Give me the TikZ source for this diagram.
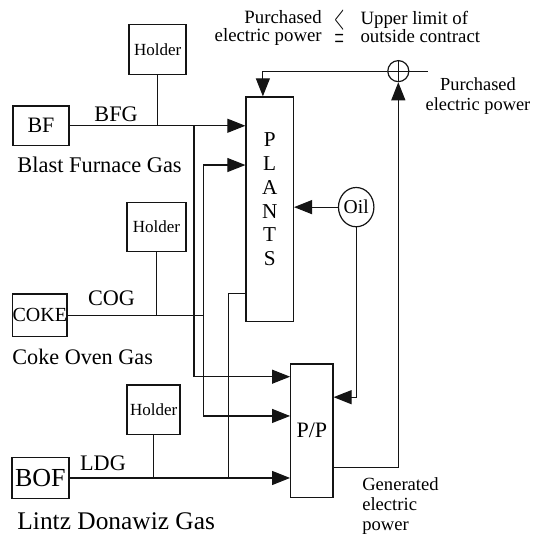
\documentclass[tikz,border=0pt]{standalone}
\usepackage{fontspec}
\usepackage{amsmath}
\usepackage{amssymb}
\setmainfont{Liberation Serif}
\usetikzlibrary{shapes.geometric, arrows.meta, positioning, calc}
\definecolor{myink}{RGB}{20,20,20}
\tikzset{
  holderbox/.style={rectangle, draw=myink, minimum width=1.0cm, minimum height=0.87cm,
    inner sep=0pt, font=\fontsize{8.5}{10}\selectfont, line width=0.7pt},
  srcbox/.style={rectangle, draw=myink, minimum width=0.98cm, minimum height=0.7cm,
    inner sep=0pt, line width=0.7pt},
  unitbox/.style={rectangle, draw=myink, inner sep=0pt, line width=0.7pt},
  sumjunc/.style={circle, draw=myink, minimum size=0.37cm, inner sep=0pt, line width=0.6pt,
    path picture={\draw[myink, line width=0.5pt]
      (path picture bounding box.north) -- (path picture bounding box.south)
      (path picture bounding box.west) -- (path picture bounding box.east);}},
  oilnode/.style={ellipse, draw=myink, minimum width=0.47cm, minimum height=0.69cm,
    inner sep=0pt, font=\fontsize{9.8}{11}\selectfont, line width=0.6pt},
  gaslbl/.style={inner sep=0pt, font=\fontsize{11.1}{13}\selectfont},
  notelbl/.style={inner sep=0pt, font=\fontsize{9.4}{9}\selectfont},
  arrow/.style={-{Triangle[length=9pt, width=7pt]}, line width=0.55pt, color=myink},
  line/.style={line width=0.55pt, color=myink}
}

\begin{document}
\begin{tikzpicture}
  \useasboundingbox (0,0) rectangle (9.42,-9.40);

  % Sources and holders
  \node[srcbox, font=\fontsize{11}{13}\selectfont] (bf) at (0.72,-2.21) {BF};
  \node[srcbox, minimum width=0.95cm, minimum height=0.74cm, font=\fontsize{10}{12}\selectfont] (coke) at (0.70,-5.54) {COKE};
  \node[srcbox, minimum width=1.0cm, minimum height=0.72cm, font=\fontsize{13}{15}\selectfont] (bof) at (0.71,-8.40) {BOF};
  \node[holderbox] (holderA) at (2.77,-0.87) {Holder};
  \node[holderbox, minimum width=1.04cm] (holderB) at (2.75,-3.99) {Holder};
  \node[holderbox, minimum width=0.93cm] (holderC) at (2.70,-7.20) {Holder};

  % Gas names
  \node[gaslbl, anchor=base] (bfgLbl) at (2.04,-2.14) {BFG};
  \node[gaslbl, anchor=base] (cogLbl) at (1.96,-5.36) {COG};
  \node[gaslbl, anchor=base] (ldgLbl) at (1.81,-8.26) {LDG};
  \node[gaslbl, font=\fontsize{11.2}{13}\selectfont, anchor=base west] (bfName) at (0.30,-3.04) {Blast Furnace Gas};
  \node[gaslbl, anchor=base west] (cokeName) at (0.21,-6.40) {Coke Oven Gas};
  \node[gaslbl, font=\fontsize{12.7}{15}\selectfont, anchor=base west] (ldgName) at (0.30,-9.31) {Lintz Donawiz Gas};

  % Plants, power plant, oil
  \node[unitbox, minimum width=0.83cm, minimum height=3.95cm] (plants) at (4.74,-3.68) {};
  \node[align=center, inner sep=0pt, font=\fontsize{10.6}{12}\selectfont] (plantsLbl) at (4.74,-3.50) {P\\L\\A\\N\\T\\S};
  \node[unitbox, minimum width=0.74cm, minimum height=2.35cm, font=\fontsize{11}{13}\selectfont] (pp) at (5.48,-7.57) {P/P};
  \node[oilnode] (oil) at (6.26,-3.64) {Oil};
  \node[sumjunc] (sum) at (7.00,-1.25) {};

  % Junctions
  \coordinate (jbf) at (3.41,-2.21);
  \coordinate (jcog) at (3.57,-5.54);
  \coordinate (jldg) at (4.02,-8.40);
  \coordinate (pout) at (7.52,-1.25);

  % Gas lines
  \draw[arrow] (bf.east) -- (bf.east -| plants.west);
  \draw[line] (holderA.south) -- (holderA.south |- bf.east);
  \draw[arrow] (jbf) |- (pp.west |- 0,-6.62);
  \draw[line] (coke.east) -- (jcog);
  \draw[line] (holderB.south) -- (holderB.south |- coke.east);
  \draw[arrow] (jcog) |- (plants.west |- 0,-2.90);
  \draw[arrow] (jcog) |- (pp.west |- 0,-7.31);
  \draw[arrow] (bof.east) -- (bof.east -| pp.west);
  \draw[line] (holderC.south) -- (holderC.south |- bof.east);
  \draw[line] (plants.west |- 0,-5.15) -| (jldg);

  % Oil and electric power
  \draw[arrow] (oil.west) -- (oil.west -| plants.east);
  \draw[arrow] (oil.south) |- (pp.east |- 0,-6.98);
  \draw[arrow] (sum.west) -| (plants.north -| 4.62,0);
  \draw[line] (sum.east) -- (pout);
  \draw[arrow] (pp.east |- 0,-8.21) -| (sum.south);

  % Notes
  \node[notelbl, align=right, anchor=east] (buyNote) at (5.66,-0.49) {Purchased\\electric power};
  \node[inner sep=0pt, font=\fontsize{11}{11}\selectfont] (leqSym) at (5.97,-0.49)
    {\scalebox{0.6}[1.6]{$\leqq$}};
  \node[notelbl, align=left, anchor=west] (limitNote) at (6.33,-0.47) {Upper limit of\\outside contract};
  \node[notelbl, font=\fontsize{9.2}{10}\selectfont, align=center] (buyOut) at (8.40,-1.69) {Purchased\\electric power};
  \node[notelbl, font=\fontsize{9.3}{10}\selectfont, align=left, anchor=west] (genNote) at (6.36,-8.89) {Generated\\electric\\power};
\end{tikzpicture}
\end{document}
